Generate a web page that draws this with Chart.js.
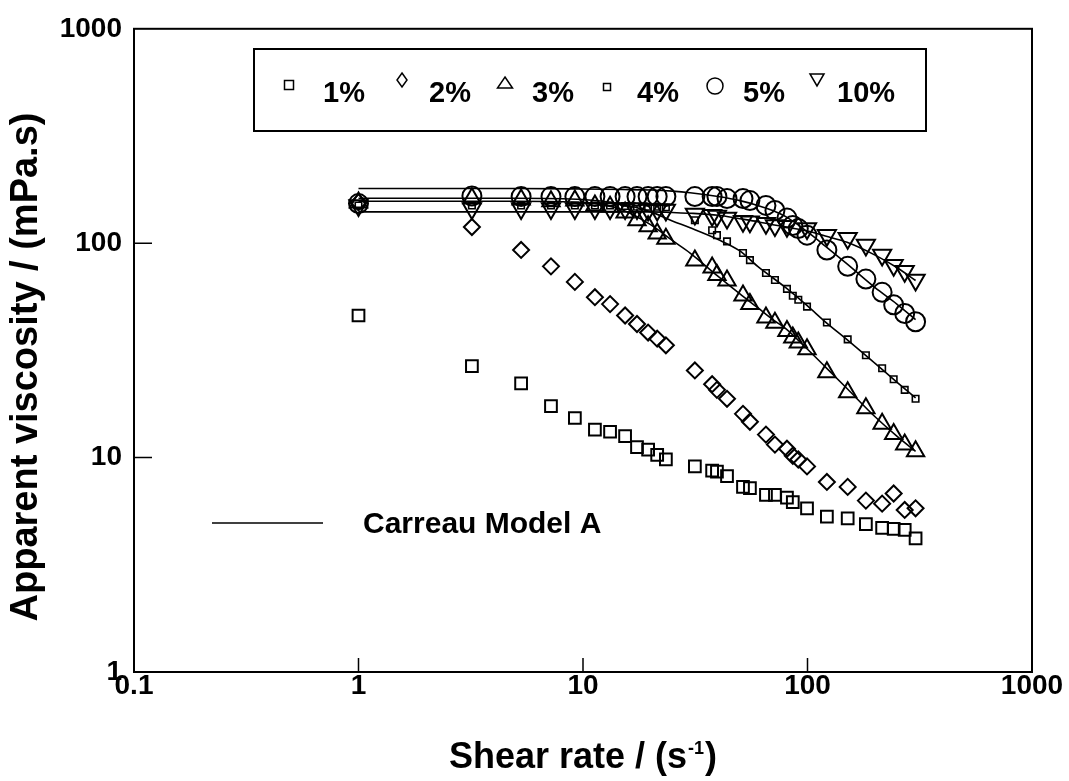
<!DOCTYPE html>
<html>
<head>
<meta charset="utf-8">
<script src="https://cdn.jsdelivr.net/npm/chart.js@4.4.1/dist/chart.umd.min.js"></script>
<style>
  html, body { margin: 0; padding: 0; background: #fff; }
  #wrap { width: 1069px; height: 781px; position: relative; }
</style>
</head>
<body>
<div id="wrap"><canvas id="c"></canvas></div>
<script>
// ---------- data ----------
const shearRates = [1, 3.2, 5.3, 7.2, 9.2, 11.3, 13.2, 15.4, 17.4, 19.5, 21.4, 23.4,
  31.5, 37.6, 39.5, 43.8, 51.6, 55.4, 65.3, 71.6, 81, 86, 91, 99.5,
  122, 151, 182, 215, 242, 271, 303];

const visc1pct = [46, 26.7, 22.2, 17.4, 15.3, 13.5, 13.2, 12.6, 11.2, 10.9, 10.3, 9.8,
  9.1, 8.7, 8.6, 8.2, 7.3, 7.2, 6.7, 6.7, 6.5, 6.2, null, 5.8,
  5.3, 5.2, 4.9, 4.7, 4.65, 4.6, 4.2];

const visc2pct = [155, 119, 93, 78, 66, 56, 52, 46, 42, 38.3, 35.9, 33.4,
  25.5, 22, 20.7, 18.8, 16, 14.7, 12.8, 11.5, 11, 10.2, 9.8, 9.1,
  7.7, 7.3, 6.3, 6.1, 6.8, 5.7, 5.8];

const visc3pct = [155, 162, 160, 157, 158, 150, 148, 139, 128, 120, 111, 105,
  83, 77, 71, 67, 57, 52, 45, 42.6, 39, 36.3, 34.4, 32,
  25, 20.2, 17, 14.4, 12.9, 11.5, 10.7];

const visc4pct = [150, 150, 150, 150, 150, 150, 150, 149, 148, 148, 148, 147,
  128, 115, 109, 102, 90, 83.4, 72.6, 67.4, 61.2, 56.9, 54.5, 50.6,
  42.7, 35.6, 30, 26.1, 23.2, 20.7, 18.8];

const visc5pct = [153, 166, 165, 165, 165, 165, 165, 165, 165, 165, 165, 165,
  165, 165, 165, 161.5, 161.5, 158, 150, 142, 131, 121, 117, 109,
  93, 78, 68, 59, 51.6, 47, 43];

const visc10pct = [150, 145, 145, 145, 145, 145, 145, 145, 145, 143, 143, 143,
  137, 135, 134, 131, 126.5, 126, 124, 121, 120, null, null, 117,
  109, 105.5, 98, 88, 79, 74, 67.4];

// Carreau Model A curves
const modelRates = [1, 5, 10, 15, 20, 25, 30, 40, 50, 60, 70, 80, 100, 120, 150, 200, 250, 303];
const model3pct  = [157, 157, 155, 143, 122, 103, 90, 70, 58, 50, 44, 40, 32, 26.5, 21, 15.5, 12.6, 10.7];
const model4pct  = [162, 162, 160, 152, 140, 127, 118, 104, 92, 78, 69, 62, 51, 43, 35.5, 27.5, 22.5, 19];
const model5pct  = [180, 180, 179, 178, 177, 175, 172, 165, 158, 150, 142, 133, 113, 97, 80, 62, 52, 44];
const model10pct = [140, 140, 140, 140, 140, 139, 138, 135, 130, 126, 122, 119, 114, 108, 101, 88, 77, 67];

const seriesLabels = ['1%', '2%', '3%', '4%', '5%', '10%'];
const xTickValues = [0.1, 1, 10, 100, 1000];
const xTickLabels = ['0.1', '1', '10', '100', '1000'];
const yTickValues = [1, 10, 100, 1000];
const yTickLabels = ['1', '10', '100', '1000'];
const modelLabel = 'Carreau Model A';
const xTitleMain = 'Shear rate / (s';
const xTitleSup = '-1';
const xTitleEnd = ')';
const yTitle = 'Apparent viscosity / (mPa.s)';

// ---------- helpers ----------
function pts(xs, ys) {
  const out = [];
  xs.forEach((x, i) => { if (ys[i] != null) out.push({ x: x, y: ys[i] }); });
  return out;
}
const FONT = '"Liberation Sans", Arial, Helvetica, sans-serif';

function markerDS(label, ys, style, radius, rotation, bw) {
  return {
    label: label, data: pts(shearRates, ys), showLine: false,
    pointStyle: style, pointRadius: radius, pointRotation: rotation || 0,
    pointBorderColor: '#000', pointBackgroundColor: 'rgba(0,0,0,0)',
    pointBorderWidth: bw || 2, order: 1
  };
}
function modelDS(ys) {
  return {
    label: modelLabel, data: pts(modelRates, ys), showLine: true,
    borderColor: '#000', borderWidth: 1.6, pointRadius: 0,
    cubicInterpolationMode: 'monotone', fill: false, order: 2
  };
}

// ---------- decorations plugin: frame, inner ticks, titles, legends ----------
const deco = {
  id: 'deco',
  afterDraw(chart) {
    const ctx = chart.ctx, a = chart.chartArea;
    const xs = chart.scales.x, ys = chart.scales.y;
    ctx.save();
    ctx.strokeStyle = '#000';
    ctx.fillStyle = '#000';
    // frame
    ctx.lineWidth = 2;
    ctx.strokeRect(a.left, a.top, a.right - a.left, a.bottom - a.top);
    // inner tick marks
    ctx.lineWidth = 1.5;
    ctx.beginPath();
    xTickValues.forEach(v => {
      const p = xs.getPixelForValue(v);
      if (p > a.left + 2 && p < a.right - 2) { ctx.moveTo(p, a.bottom); ctx.lineTo(p, a.bottom - 14); }
    });
    yTickValues.forEach(v => {
      const p = ys.getPixelForValue(v);
      if (p > a.top + 2 && p < a.bottom - 2) { ctx.moveTo(a.left, p); ctx.lineTo(a.left + 18, p); }
    });
    ctx.stroke();

    // x axis title with superscript
    const mainFont = 'bold 36px ' + FONT, supFont = 'bold 18px ' + FONT;
    ctx.textBaseline = 'alphabetic';
    ctx.textAlign = 'left';
    ctx.font = mainFont;
    const w1 = ctx.measureText(xTitleMain).width;
    const w3 = ctx.measureText(xTitleEnd).width;
    ctx.font = supFont;
    const w2 = ctx.measureText(xTitleSup).width;
    let tx = (a.left + a.right) / 2 - (w1 + w2 + w3 + 2) / 2;
    ctx.font = mainFont; ctx.fillText(xTitleMain, tx, 768); tx += w1 + 1;
    ctx.font = supFont; ctx.fillText(xTitleSup, tx, 754); tx += w2 + 1;
    ctx.font = mainFont; ctx.fillText(xTitleEnd, tx, 768);

    // y axis title
    ctx.save();
    ctx.translate(27, 367);
    ctx.rotate(-Math.PI / 2);
    ctx.textAlign = 'center';
    ctx.textBaseline = 'middle';
    ctx.font = 'bold 38px ' + FONT;
    ctx.fillText(yTitle, 0, 0);
    ctx.restore();

    // series legend box
    ctx.lineWidth = 2;
    ctx.strokeRect(254, 49, 672, 82);
    ctx.font = 'bold 29px ' + FONT;
    ctx.textBaseline = 'alphabetic';
    ctx.textAlign = 'left';
    const textX = [323, 429, 532, 637, 743, 837];
    const markX = [289, 402, 505, 607, 715, 817];
    seriesLabels.forEach((t, i) => ctx.fillText(t, textX[i], 102));
    ctx.lineWidth = 1.5;
    ctx.strokeRect(markX[0] - 4.5, 85 - 4.5, 9, 9);
    ctx.beginPath();
    ctx.moveTo(markX[1], 73); ctx.lineTo(markX[1] + 5, 80); ctx.lineTo(markX[1], 87); ctx.lineTo(markX[1] - 5, 80); ctx.closePath(); ctx.stroke();
    ctx.beginPath();
    ctx.moveTo(markX[2], 77); ctx.lineTo(markX[2] + 7.5, 88); ctx.lineTo(markX[2] - 7.5, 88); ctx.closePath(); ctx.stroke();
    ctx.strokeRect(markX[3] - 3.5, 87 - 3.5, 7, 7);
    ctx.beginPath(); ctx.arc(markX[4], 86, 8, 0, Math.PI * 2); ctx.stroke();
    ctx.beginPath();
    ctx.moveTo(markX[5] - 7, 74); ctx.lineTo(markX[5] + 7, 74); ctx.lineTo(markX[5], 86); ctx.closePath(); ctx.stroke();

    // model legend
    ctx.lineWidth = 1.6;
    ctx.beginPath(); ctx.moveTo(212, 523); ctx.lineTo(323, 523); ctx.stroke();
    ctx.font = 'bold 30px ' + FONT;
    ctx.fillText(modelLabel, 363, 533);
    ctx.restore();
  }
};

// ---------- chart ----------
new Chart(document.getElementById('c'), {
  type: 'scatter',
  data: {
    datasets: [
      markerDS(seriesLabels[0], visc1pct, 'rect', 8.3, 0, 2),
      markerDS(seriesLabels[1], visc2pct, 'rectRot', 8, 0, 2),
      markerDS(seriesLabels[2], visc3pct, 'triangle', 10, 0, 2),
      markerDS(seriesLabels[3], visc4pct, 'rect', 4.6, 0, 1.6),
      markerDS(seriesLabels[4], visc5pct, 'circle', 9.5, 0, 2),
      markerDS(seriesLabels[5], visc10pct, 'triangle', 10.5, 180, 2),
      modelDS(model3pct),
      modelDS(model4pct),
      modelDS(model5pct),
      modelDS(model10pct)
    ]
  },
  options: {
    responsive: true,
    maintainAspectRatio: false,
    animation: false,
    layout: { padding: { top: 24, right: 37, left: 0, bottom: 0 } },
    plugins: { legend: { display: false }, tooltip: { enabled: false } },
    scales: {
      x: {
        type: 'logarithmic', min: 0.1, max: 1000,
        grid: { display: false, drawTicks: false },
        border: { display: false },
        afterBuildTicks: s => { s.ticks = xTickValues.map(v => ({ value: v })); },
        afterFit: s => { s.height = 109; },
        ticks: {
          autoSkip: false, maxRotation: 0, padding: 0, color: '#000',
          font: { family: FONT, size: 28, weight: 'bold', lineHeight: 1 },
          callback: (v, i) => xTickLabels[i]
        },
        title: { display: false }
      },
      y: {
        type: 'logarithmic', min: 1, max: 1000,
        grid: { display: false, drawTicks: false },
        border: { display: false },
        afterBuildTicks: s => { s.ticks = yTickValues.map(v => ({ value: v })); },
        afterFit: s => { s.width = 134; },
        ticks: {
          autoSkip: false, padding: 12, color: '#000',
          font: { family: FONT, size: 28, weight: 'bold', lineHeight: 1.2 },
          callback: (v, i) => yTickLabels[i]
        },
        title: { display: false }
      }
    }
  },
  plugins: [deco]
});
</script>
</body>
</html>
